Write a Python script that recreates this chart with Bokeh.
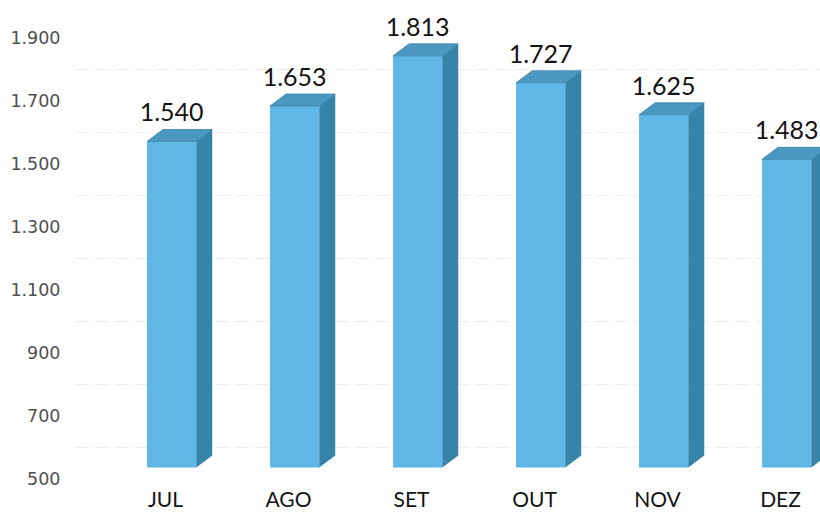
from bokeh.plotting import figure
from bokeh.models import FixedTicker, Range1d
from bokeh.embed import file_html
from bokeh.resources import INLINE
from bokeh.core.properties import value

# ---- data ----
months = ["JUL", "AGO", "SET", "OUT", "NOV", "DEZ"]
totals = [1540, 1653, 1813, 1727, 1625, 1483]
value_labels = ["1.540", "1.653", "1.813", "1.727", "1.625", "1.483"]
y_ticks = [500, 700, 900, 1100, 1300, 1500, 1700, 1900]
y_tick_labels = ["500", "700", "900", "1.100", "1.300", "1.500", "1.700", "1.900"]
grid_levels = [600, 800, 1000, 1200, 1400, 1600, 1800]
BASE = 500

# ---- style ----
FRONT = "#5EB7E5"
SIDE = "#3684AA"
TOP = "#4A98C2"

p = figure(width=820, height=513, output_backend="svg", toolbar_location=None,
           x_range=Range1d(-0.7317, 5.325), y_range=Range1d(487.3, 2017.5),
           min_border_left=75, min_border_right=0, min_border_top=0,
           min_border_bottom=31)
p.extra_y_ranges = {"bars": Range1d(452.2, 1989.6)}
p.outline_line_color = None
p.background_fill_color = "white"
p.border_fill_color = "white"

# y axis
p.yaxis.ticker = FixedTicker(ticks=y_ticks)
p.yaxis.major_label_overrides = dict(zip(y_ticks, y_tick_labels))
p.yaxis.axis_line_color = None
p.yaxis.major_tick_line_color = None
p.yaxis.minor_tick_line_color = None
p.yaxis.major_label_standoff = 9
p.yaxis.major_label_text_font = "DejaVu Sans"
p.yaxis.major_label_text_font_size = "17.5px"
p.yaxis.major_label_text_color = "#505050"

# x axis
xt = list(range(len(months)))
p.xaxis.ticker = FixedTicker(ticks=xt)
p.xaxis.major_label_overrides = dict(zip(xt, months))
p.xaxis.axis_line_color = None
p.xaxis.major_tick_line_color = None
p.xaxis.minor_tick_line_color = None
p.xaxis.major_label_standoff = -3
p.xaxis.major_label_text_font = "Lato"
p.xaxis.major_label_text_font_size = "21px"
p.xaxis.major_label_text_color = "#151515"

# grid
p.xgrid.visible = False
p.ygrid.ticker = FixedTicker(ticks=grid_levels)
p.ygrid.grid_line_color = "#ebebeb"
p.ygrid.grid_line_dash = "14 6"

# ---- 3D bars ----
off = 0.05
half = 0.2
dx = 0.13
dy = 38.3
centers = [i + off for i in range(len(months))]

p.vbar(x=centers, width=2 * half, top=totals, bottom=BASE,
       fill_color=FRONT, line_color=None, y_range_name="bars")

top_xs, top_ys, side_xs, side_ys = [], [], [], []
for c, v in zip(centers, totals):
    L, R = c - half, c + half
    top_xs.append([L, L + dx, R + dx, R])
    top_ys.append([v, v + dy, v + dy, v])
    side_xs.append([R, R, R + dx, R + dx])
    side_ys.append([BASE, v, v + dy, BASE + dy])

p.patches(xs=side_xs, ys=side_ys, fill_color=SIDE, line_color=None,
          y_range_name="bars")
p.patches(xs=top_xs, ys=top_ys, fill_color=TOP, line_color="#3A80A8",
          line_width=0.8, y_range_name="bars")

p.text(x=centers, y=totals, text=value_labels, y_range_name="bars",
       text_align="center", text_baseline="alphabetic", y_offset=-29,
       text_font=value("Lato"), text_font_size="25px", text_color="#141414")

open("out.html", "w").write(file_html(p, INLINE))
